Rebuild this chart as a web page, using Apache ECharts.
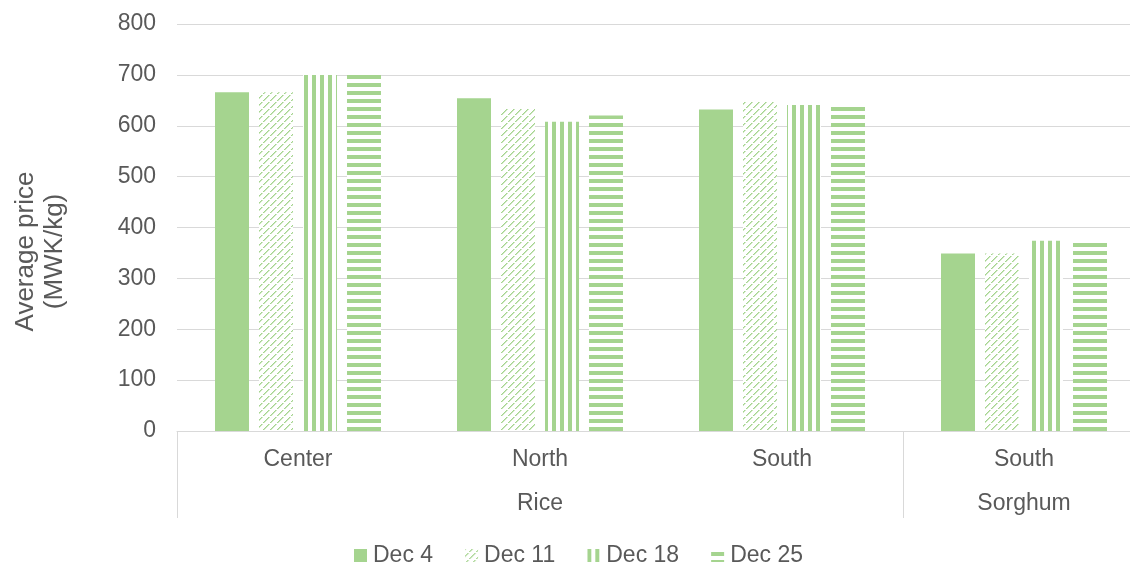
<!DOCTYPE html>
<html>
<head>
<meta charset="utf-8">
<script src="https://cdn.jsdelivr.net/npm/echarts@6/dist/echarts.min.js"></script>
<style>
html,body{margin:0;padding:0;background:#fff;}
#chart{width:1130px;height:563px;}
</style>
</head>
<body>
<div id="chart"></div>
<script>
// ---- data ----
const categories = ['Center', 'North', 'South', 'South'];
const groups = ['Rice', 'Sorghum'];
const groupSpans = [3, 1];
const seriesNames = ['Dec 4', 'Dec 11', 'Dec 18', 'Dec 25'];
const dec4 = [666, 654, 632, 349];
const dec11 = [666, 635, 647, 349];
const dec18 = [700, 608, 641, 374];
const dec25 = [700, 620, 638, 370];
const yTicks = [0, 100, 200, 300, 400, 500, 600, 700, 800];

const GREEN = '#a5d48f';
const LIGHT = '#cde8c0';
const TEXT = '#595959';
const GRID = '#d9d9d9';
const FONT = '"Liberation Sans", Arial, sans-serif';

function makePattern(type) {
  const n = type === 'd' ? 7 : 8;
  const c = document.createElement('canvas');
  c.width = n; c.height = n;
  const ctx = c.getContext('2d');
  ctx.fillStyle = '#ffffff';
  ctx.fillRect(0, 0, n, n);
  ctx.fillStyle = GREEN;
  if (type === 'v') {
    ctx.fillRect(0, 0, 4, n);
  } else if (type === 'h') {
    ctx.fillRect(0, 3, n, 4);
  } else if (type === 'd') {
    for (let x = 0; x < n; x++) {
      if (x === 3) continue;
      const y = n - 1 - x;
      ctx.fillStyle = GREEN;
      ctx.fillRect(x, y, 1, 1);
      ctx.fillStyle = LIGHT;
      ctx.fillRect((x + 1) % n, y, 1, 1);
    }
  }
  return { image: c, repeat: 'repeat' };
}

const fills = [GREEN, makePattern('d'), makePattern('v'), makePattern('h')];
const values = [dec4, dec11, dec18, dec25];

// group start indices (for separator ticks) and centers for group labels
const groupStarts = [];
const groupCenters = {};
let acc = 0;
groups.forEach(function (g, i) {
  groupStarts.push(acc);
  groupCenters[(acc + groupSpans[i] / 2).toFixed(2)] = g;
  acc += groupSpans[i];
});

const chart = echarts.init(document.getElementById('chart'), null, { renderer: 'canvas' });
chart.setOption({
  animation: false,
  textStyle: { fontFamily: FONT },
  grid: { left: 177, top: 24, width: 968, height: 407, containLabel: false, outerBoundsMode: 'none' },
  legend: {
    data: seriesNames,
    top: 539,
    left: 349,
    itemWidth: 13,
    itemHeight: 13,
    itemGap: 32,
    icon: 'rect',
    textStyle: { fontSize: 23, color: TEXT, fontFamily: FONT, padding: [0, 0, 0, 1] }
  },
  xAxis: [
    {
      type: 'category',
      data: categories,
      position: 'bottom',
      axisLine: { show: true, lineStyle: { color: GRID, width: 1 } },
      axisTick: {
        show: true,
        length: 87,
        lineStyle: { color: GRID, width: 1 },
        interval: function (index) { return groupStarts.indexOf(index) >= 0; }
      },
      axisLabel: { fontSize: 23, color: TEXT, margin: 17, fontFamily: FONT, interval: 0 },
      splitLine: { show: false }
    },
    {
      type: 'value',
      min: 0,
      max: categories.length,
      interval: 0.5,
      position: 'bottom',
      offset: 44,
      axisLine: { show: false },
      axisTick: { show: false },
      splitLine: { show: false },
      axisLabel: {
        fontSize: 23, color: TEXT, margin: 17, fontFamily: FONT,
        showMinLabel: true, showMaxLabel: true,
        formatter: function (v) { return groupCenters[Number(v).toFixed(2)] || ''; }
      }
    }
  ],
  yAxis: {
    type: 'value',
    min: yTicks[0],
    max: yTicks[yTicks.length - 1],
    interval: 100,
    name: 'Average price\n(MWK/kg)',
    nameLocation: 'middle',
    nameRotate: 90,
    nameGap: 108,
    nameTextStyle: { fontSize: 26, color: TEXT, fontFamily: FONT, lineHeight: 29, padding: [0, 48, 0, 0] },
    axisLine: { show: false },
    axisTick: { show: false },
    axisLabel: { fontSize: 23, color: TEXT, margin: 21, fontFamily: FONT },
    splitLine: { show: true, lineStyle: { color: GRID, width: 1 } }
  },
  series: seriesNames.map(function (name, i) {
    return {
      name: name,
      type: 'bar',
      xAxisIndex: 0,
      data: values[i],
      barWidth: 34,
      barGap: '29.4%',
      itemStyle: { color: fills[i] },
      emphasis: { disabled: true }
    };
  })
});
</script>
</body>
</html>
